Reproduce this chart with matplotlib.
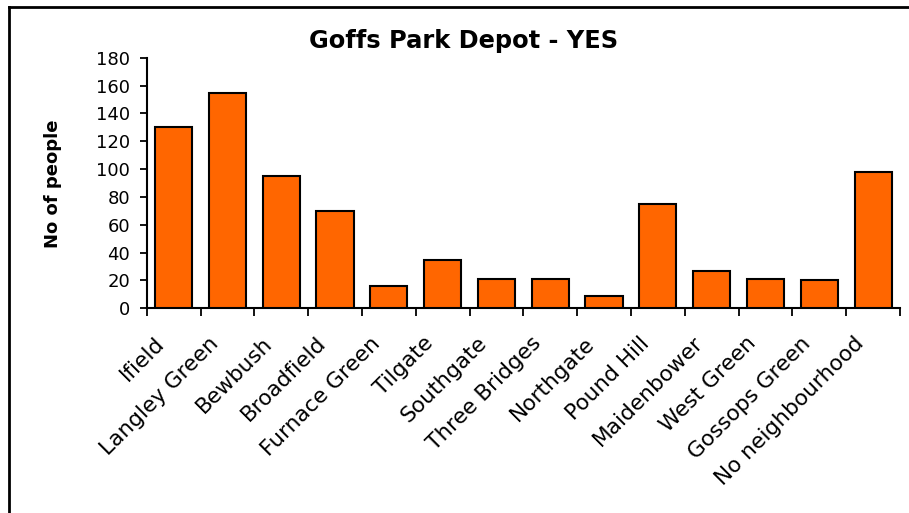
import matplotlib
matplotlib.use("Agg")
import matplotlib.pyplot as plt
import matplotlib.transforms as mtrans
import numpy as np
from matplotlib.lines import Line2D

categories = ["Ifield", "Langley Green", "Bewbush", "Broadfield", "Furnace Green",
              "Tilgate", "Southgate", "Three Bridges", "Northgate", "Pound Hill",
              "Maidenbower", "West Green", "Gossops Green", "No neighbourhood"]
values = [130, 155, 95, 70, 16, 35, 21, 21, 9, 75, 27, 21, 20, 98]
yticks = [0, 20, 40, 60, 80, 100, 120, 140, 160, 180]
title = "Goffs Park Depot - YES"
ylabel = "No of people"

plt.rcParams['font.family'] = ['DejaVu Sans']

W, H = 909, 513
fig = plt.figure(figsize=(W / 100, H / 100), dpi=100)
fig.patch.set_facecolor('white')

left, right, top, bottom = 146.7, 900, 57.7, 308.3
ax = fig.add_axes([left / W, 1 - bottom / H, (right - left) / W, (bottom - top) / H])

x = np.arange(len(categories))
ax.bar(x, values, width=0.69, color='#FF6600', edgecolor='black', linewidth=1.5, zorder=3)

ax.set_xlim(-0.5, len(categories) - 0.5)
ax.set_ylim(0, 180)
ax.set_yticks(yticks)
ax.set_yticklabels([str(v) for v in yticks], fontsize=13)
ax.tick_params(axis='y', direction='out', length=4.8, width=1.3, pad=7)

ax.set_xticks(x)
ax.set_xticklabels([])
ax.tick_params(axis='x', which='major', length=0)
ax.set_xticks(np.arange(-0.5, len(categories), 1.0), minor=True)
ax.tick_params(axis='x', which='minor', direction='out', length=5.5, width=1.3)

# category labels, rotated, anchored at their right baseline end
base = mtrans.blended_transform_factory(ax.transData, ax.transAxes)
off = mtrans.ScaledTranslation(-8 / 100, -36 / 100, fig.dpi_scale_trans)
for i, cat in enumerate(categories):
    ax.text(i, 0, cat, transform=base + off, rotation=45, rotation_mode='anchor',
            ha='right', va='baseline', fontsize=15.6, clip_on=False)

for s in ['top', 'right']:
    ax.spines[s].set_visible(False)
for s in ['left', 'bottom']:
    ax.spines[s].set_linewidth(1.5)

fig.text(464 / W, 1 - 47.7 / H, title, fontsize=17.4, fontweight='bold', ha='center', va='baseline')
fig.text(53 / W, 1 - 184 / H, ylabel, fontsize=13, fontweight='bold', rotation=90,
         ha='center', va='center')

# outer chart border (top and left edges visible)
fig.add_artist(Line2D([9 / W, 9 / W], [0, 1 - 7 / H], transform=fig.transFigure,
                      color='black', linewidth=2))
fig.add_artist(Line2D([9 / W, 1], [1 - 7 / H, 1 - 7 / H], transform=fig.transFigure,
                      color='black', linewidth=2))

fig.savefig("out.png", dpi=100)
